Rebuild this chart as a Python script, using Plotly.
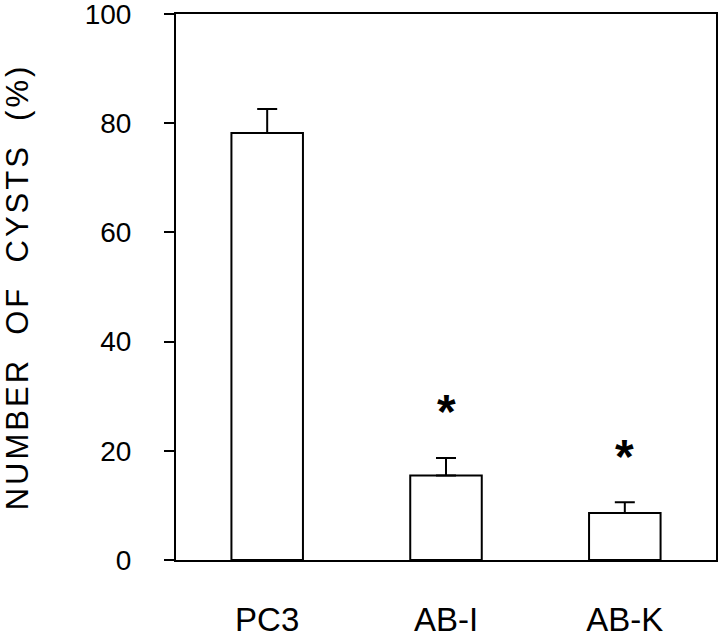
import plotly.graph_objs as go

groups = ['PC3', 'AB-I', 'AB-K']
cysts_pct = [78.2, 15.5, 8.6]
sem = [4.4, 3.2, 2.0]
signif = ['', '*', '*']

FONT = 'Liberation Sans, Arial, sans-serif'

fig = go.Figure()
fig.add_trace(go.Bar(x=groups,
                     y=cysts_pct,
                     width=0.4,
                     marker=dict(color='white',
                                 line=dict(color='black', width=2)),
                     error_y=dict(type='data', array=sem,
                                  arrayminus=[0] * len(sem),
                                  symmetric=False,
                                  color='black', thickness=2, width=10),
                     showlegend=False))

# significance stars above the error bars
for g, v, e, s in zip(groups, cysts_pct, sem, signif):
    if s:
        fig.add_annotation(x=g, y=v + e, text='<b>' + s + '</b>', showarrow=False,
                           yshift=46, yanchor='middle',
                           font=dict(family=FONT, size=48, color='black'))

fig['layout'].update(width=720, height=637,
                     margin={'l': 176, 'b': 77, 't': 14, 'r': 4, 'autoexpand': False},
                     plot_bgcolor='white', paper_bgcolor='white',
                     font=dict(family=FONT, size=28, color='black'),
                     bargap=0.6)
sp = '\u00a0' * 2
ytitle = 'NUMBER' + sp + 'OF' + sp + 'CYSTS' + sp + '(%)'
fig.update_yaxes(range=[0, 100.01], tickvals=[0, 20, 40, 60, 80, 100],
                 ticks='outside', ticklen=10, tickwidth=2, tickcolor='black',
                 ticklabelstandoff=27, automargin=False, ticklabeloverflow='allow',
                 showline=True, linecolor='black', linewidth=2, mirror=True,
                 showgrid=False, zeroline=False,
                 title=dict(text='<span style="letter-spacing:3px">' + ytitle + '</span>',
                            font=dict(size=31), standoff=63))
fig.update_xaxes(range=[-0.51, 2.51], showline=True, linecolor='black',
                 linewidth=2, mirror=True, ticks='', showgrid=False,
                 automargin=False, ticklabeloverflow='allow',
                 tickfont=dict(size=33), ticklabelstandoff=29)

# drop the default 8px body margin so the figure sits at the page corner
fig.write_html("out.html", config={'displayModeBar': False},
               post_script="document.body.style.margin='0';")
